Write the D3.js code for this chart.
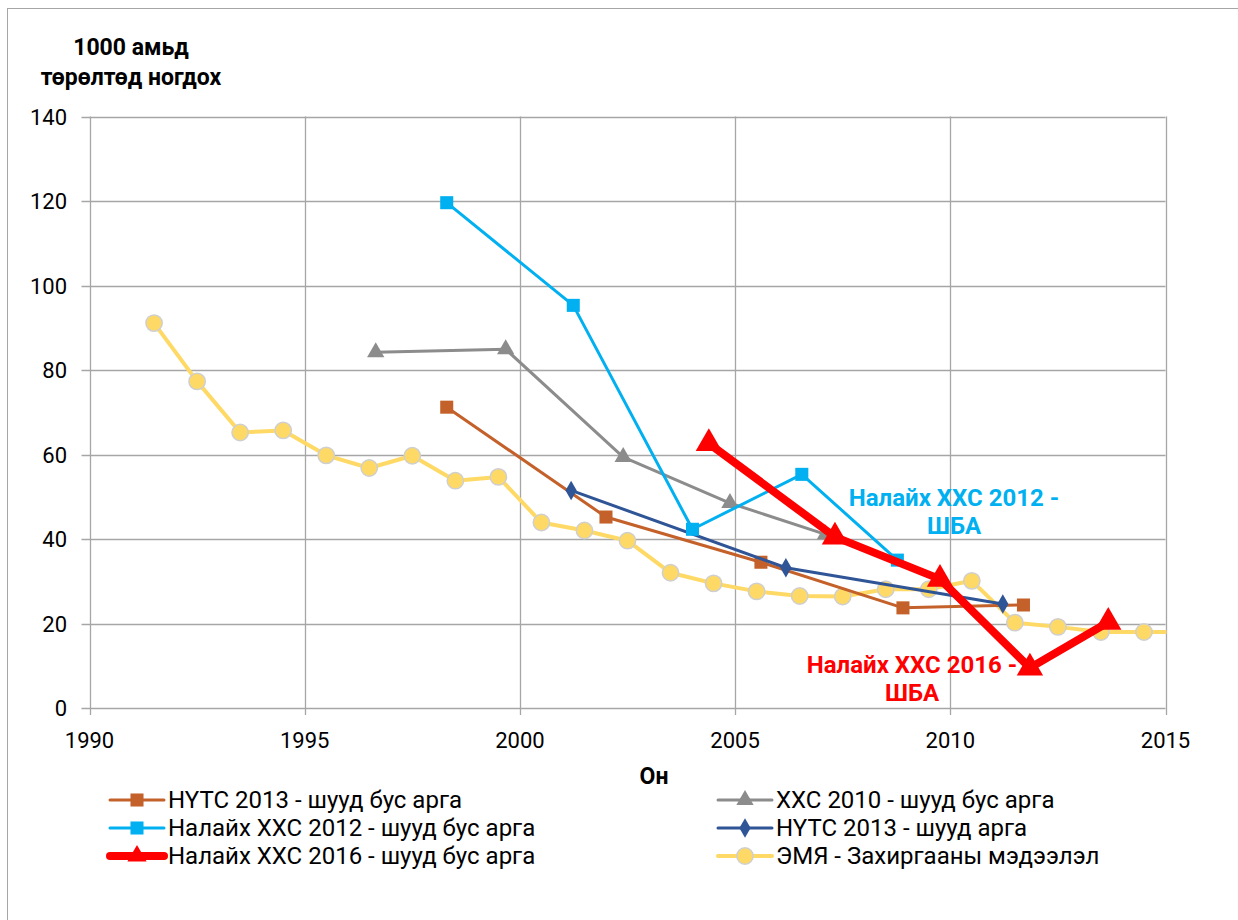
<!DOCTYPE html>
<html>
<head>
<meta charset="utf-8">
<script src="https://cdn.jsdelivr.net/npm/d3@7"></script>
<style>
  body { margin: 0; background: #fff; }
  svg { font-family: Roboto, "Noto Sans", sans-serif; }
</style>
</head>
<body>
<div id="chart"></div>
<script>
// ЭМЯ - Захиргааны мэдээлэл (mid-year points)
var emy_years = [1991.5, 1992.5, 1993.5, 1994.5, 1995.5, 1996.5, 1997.5, 1998.5, 1999.5, 2000.5, 2001.5, 2002.5,
                 2003.5, 2004.5, 2005.5, 2006.5, 2007.5, 2008.5, 2009.5, 2010.5, 2011.5, 2012.5, 2013.5, 2014.5, 2015.5];
var emy_values = [91.1, 77.3, 65.2, 65.7, 59.8, 56.8, 59.7, 53.8, 54.7, 43.9, 42.0, 39.6,
                  32.0, 29.5, 27.6, 26.5, 26.4, 28.1, 28.1, 30.1, 20.2, 19.2, 18.0, 18.0, 18.0];

// НҮТС 2013 - шууд бус арга
var nuts_indirect_years = [1998.3, 2002.0, 2005.6, 2008.9, 2011.7];
var nuts_indirect_values = [71.2, 45.2, 34.5, 23.7, 24.4];

// ХХС 2010 - шууд бус арга
var hhs2010_years = [1996.65, 1999.67, 2002.4, 2004.88, 2007.1];
var hhs2010_values = [84.2, 84.9, 59.4, 48.5, 41.1];

// Налайх ХХС 2012 - шууд бус арга
var nal2012_years = [1998.3, 2001.24, 2004.01, 2006.55, 2008.77];
var nal2012_values = [119.6, 95.3, 42.3, 55.3, 35.0];

// НҮТС 2013 - шууд арга
var nuts_direct_years = [2001.19, 2006.18, 2011.22];
var nuts_direct_values = [51.5, 33.2, 24.6];

// Налайх ХХС 2016 - шууд бус арга
var nal2016_years = [2004.39, 2007.32, 2009.76, 2011.85, 2013.67];
var nal2016_values = [62.6, 40.5, 30.5, 9.5, 20.3];

var x_ticks = [1990, 1995, 2000, 2005, 2010, 2015];
var y_ticks = [0, 20, 40, 60, 80, 100, 120, 140];

function zip(xs, ys) {
  return xs.map(function(d, i) { return {x: d, y: ys[i]}; });
}

var series = [
  {name: "НҮТС 2013 - шууд бус арга", data: zip(nuts_indirect_years, nuts_indirect_values), color: "#c4612a", width: 3, marker: "square", size: 170},
  {name: "ХХС 2010 - шууд бус арга", data: zip(hhs2010_years, hhs2010_values), color: "#8c8c8c", width: 3, marker: "triangle", size: 130},
  {name: "Налайх ХХС 2012 - шууд бус арга", data: zip(nal2012_years, nal2012_values), color: "#00b0f0", width: 3, marker: "square", size: 170},
  {name: "НҮТС 2013 - шууд арга", data: zip(nuts_direct_years, nuts_direct_values), color: "#2f5597", width: 3, marker: "diamond", size: 110},
  {name: "Налайх ХХС 2016 - шууд бус арга", data: zip(nal2016_years, nal2016_values), color: "#ff0000", width: 8, marker: "triangle", size: 300},
  {name: "ЭМЯ - Захиргааны мэдээлэл", data: zip(emy_years, emy_values), color: "#ffd966", width: 4, marker: "circle", size: 210, stroke: "#cfcfcf"}
];
// drawing order: yellow at back, red on top
var draw_order = [5, 0, 1, 3, 2, 4];

var width = 1238, height = 920;
var svg = d3.select("#chart").append("svg")
    .attr("width", width)
    .attr("height", height);

// chart border (bottom/right fall outside the picture)
svg.append("rect")
    .attr("x", 7.5).attr("y", 8.5)
    .attr("width", 1300).attr("height", 1000)
    .attr("fill", "none")
    .attr("stroke", "#a6a6a6")
    .attr("stroke-width", 1);

var x = d3.scaleLinear().domain([1990, 2015]).range([89.5, 1165.5]);
var y = d3.scaleLinear().domain([0, 140]).range([708, 116.5]);

// grid
svg.append("g").selectAll("line")
    .data(y_ticks)
  .enter().append("line")
    .attr("x1", x(1990) - 8).attr("x2", x(2015))
    .attr("y1", function(d) { return Math.round(y(d)) + 0.5; })
    .attr("y2", function(d) { return Math.round(y(d)) + 0.5; })
    .attr("stroke", "#a6a6a6").attr("stroke-width", 1.3);

svg.append("g").selectAll("line")
    .data(x_ticks)
  .enter().append("line")
    .attr("x1", function(d) { return Math.round(x(d)) + 0.5; })
    .attr("x2", function(d) { return Math.round(x(d)) + 0.5; })
    .attr("y1", y(140)).attr("y2", y(0) + 7)
    .attr("stroke", "#a6a6a6").attr("stroke-width", 1.3);

// tick labels
svg.append("g").selectAll("text")
    .data(y_ticks)
  .enter().append("text")
    .attr("x", 67)
    .attr("y", function(d) { return y(d) + 8; })
    .attr("text-anchor", "end")
    .attr("font-size", "22px")
    .attr("fill", "#000")
    .text(function(d) { return d; });

svg.append("g").selectAll("text")
    .data(x_ticks)
  .enter().append("text")
    .attr("x", function(d) { return x(d); })
    .attr("y", 748)
    .attr("text-anchor", "middle")
    .attr("font-size", "22px")
    .attr("fill", "#000")
    .text(function(d) { return d; });

// axis titles
svg.append("text")
    .attr("x", 131).attr("y", 55)
    .attr("text-anchor", "middle")
    .attr("font-size", "23px").attr("font-weight", "bold")
    .text("1000 амьд");
svg.append("text")
    .attr("x", 131).attr("y", 85)
    .attr("text-anchor", "middle")
    .attr("font-size", "23px").attr("font-weight", "bold")
    .text("төрөлтөд ногдох");
svg.append("text")
    .attr("x", 654).attr("y", 784)
    .attr("text-anchor", "middle")
    .attr("font-size", "23px").attr("font-weight", "bold")
    .text("Он");

function symbolType(m) {
  if (m == "square") return d3.symbolSquare;
  if (m == "triangle") return d3.symbolTriangle;
  if (m == "diamond") return d3.symbolDiamond;
  return d3.symbolCircle;
}

svg.append("defs").append("clipPath").attr("id", "plotclip")
  .append("rect")
    .attr("x", x(1990)).attr("y", 0)
    .attr("width", x(2015) - x(1990) + 1).attr("height", 720);

var line = d3.line()
    .x(function(d) { return x(d.x); })
    .y(function(d) { return y(d.y); });

var plot = svg.append("g").attr("clip-path", "url(#plotclip)");

draw_order.forEach(function(k) {
  var s = series[k];
  var g = plot.append("g");
  g.append("path")
      .datum(s.data)
      .attr("d", line)
      .attr("fill", "none")
      .attr("stroke", s.color)
      .attr("stroke-width", s.width)
      .attr("stroke-linejoin", "round");
  g.selectAll(".mark")
      .data(s.data)
    .enter().append("path")
      .attr("class", "mark")
      .attr("transform", function(d) { return "translate(" + x(d.x) + "," + y(d.y) + ")"; })
      .attr("d", d3.symbol().type(symbolType(s.marker)).size(s.size))
      .attr("fill", s.color)
      .attr("stroke", s.stroke || "none")
      .attr("stroke-width", s.stroke ? 1.5 : 0);
});

// data labels
var labels = [
  {lines: ["Налайх ХХС 2012 -", "ШБА"], x: 954, y: 506, color: "#00b0f0"},
  {lines: ["Налайх ХХС 2016 -", "ШБА"], x: 912, y: 673, color: "#ff0000"}
];
labels.forEach(function(l) {
  l.lines.forEach(function(t, i) {
    svg.append("text")
        .attr("x", l.x).attr("y", l.y + i * 28)
        .attr("text-anchor", "middle")
        .attr("font-size", "24px").attr("font-weight", "bold")
        .attr("fill", l.color)
        .text(t);
  });
});

// legend
var legend_pos = [
  {x: 110, y: 800}, {x: 718, y: 800},
  {x: 110, y: 828}, {x: 718, y: 828},
  {x: 110, y: 856}, {x: 718, y: 856}
];
series.forEach(function(s, i) {
  var p = legend_pos[i];
  var g = svg.append("g").attr("transform", "translate(" + p.x + "," + p.y + ")");
  g.append("line")
      .attr("x1", 0).attr("x2", 54)
      .attr("stroke", s.color)
      .attr("stroke-width", s.width)
      .attr("stroke-linecap", "round");
  g.append("path")
      .attr("transform", "translate(27,0)")
      .attr("d", d3.symbol().type(symbolType(s.marker)).size(s.marker == "triangle" && s.width > 5 ? 160 : s.size))
      .attr("fill", s.color)
      .attr("stroke", s.stroke || "none")
      .attr("stroke-width", s.stroke ? 1.5 : 0);
  g.append("text")
      .attr("x", 58).attr("y", 8)
      .attr("font-size", "24px")
      .attr("fill", "#000")
      .text(s.name);
});
</script>
</body>
</html>
